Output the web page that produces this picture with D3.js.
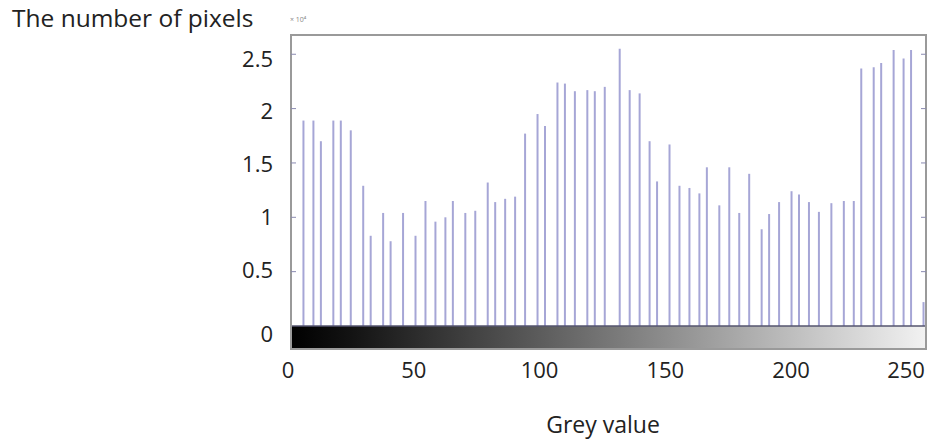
<!DOCTYPE html>
<html>
<head>
<meta charset="utf-8">
<script src="https://cdnjs.cloudflare.com/ajax/libs/d3/7.9.0/d3.min.js"></script>
<style>
  html, body { margin: 0; padding: 0; background: #fff; }
  text { font-family: "Open Sans", sans-serif; fill: #222; }
</style>
</head>
<body>
<svg id="chart" width="928" height="439"></svg>
<script>
// Grey levels (x) and pixel counts in units of 10^4 (y)
const greyValues = [
  0, 5, 9, 12, 17, 20, 24, 29, 32, 37, 40, 45, 50, 54, 58, 62, 65, 70, 74, 79, 82,
  86, 90, 94, 99, 102, 107, 110, 114, 119, 122, 126, 132, 136, 140, 144, 147, 152,
  156, 160, 164, 167, 172, 176, 180, 184, 189, 192, 196, 201, 204, 208, 212, 217,
  222, 226, 229, 234, 237, 242, 246, 249, 254
];
const pixelCounts = [
  2.08, 1.89, 1.89, 1.70, 1.89, 1.89, 1.80, 1.29, 0.83, 1.04, 0.78, 1.04, 0.83, 1.15,
  0.96, 1.00, 1.15, 1.04, 1.06, 1.32, 1.14, 1.17, 1.19, 1.77, 1.95, 1.84, 2.24, 2.23,
  2.16, 2.17, 2.16, 2.20, 2.55, 2.17, 2.14, 1.70, 1.33, 1.67, 1.29, 1.27, 1.22, 1.46,
  1.11, 1.46, 1.04, 1.40, 0.89, 1.03, 1.14, 1.24, 1.21, 1.14, 1.05, 1.13, 1.15, 1.15,
  2.37, 2.38, 2.42, 2.54, 2.46, 2.54, 0.22
];
const xTicks = [0, 50, 100, 150, 200, 250];
const yTicks = [0.5, 1, 1.5, 2, 2.5];

const svg = d3.select('#chart');

// plot box
const boxL = 291, boxR = 926, boxT = 35, base = 326, boxB = 349;

const x = d3.scaleLinear().domain([0, 255]).range([boxL, boxR]);
const y = d3.scaleLinear().domain([0, 2.5]).range([base, base - 2.5 * 108.7]);

// label positions drift a little from the ticks in the original figure
const xLab = d3.scaleLinear().domain([0, 200]).range([288, 791]);
const yLab = d3.scaleLinear().domain([0.5, 2.5]).range([278, 66.5]);

// colour bar under the axis (black -> white)
const grad = svg.append('defs').append('linearGradient').attr('id', 'greyGrad');
grad.append('stop').attr('offset', '0%').attr('stop-color', '#000');
grad.append('stop').attr('offset', '10%').attr('stop-color', '#141414');
grad.append('stop').attr('offset', '100%').attr('stop-color', '#f2f2f2');
svg.append('rect')
  .attr('x', boxL).attr('y', base)
  .attr('width', boxR - boxL).attr('height', boxB - base)
  .attr('fill', 'url(#greyGrad)');

// bars (stems)
svg.append('g')
  .selectAll('line')
  .data(greyValues)
  .join('line')
  .attr('x1', d => x(d)).attr('x2', d => x(d))
  .attr('y1', y(0))
  .attr('y2', (d, i) => y(pixelCounts[i]))
  .attr('stroke', '#a6a6d6')
  .attr('stroke-width', 2);

// baseline
svg.append('line')
  .attr('x1', boxL).attr('x2', boxR).attr('y1', base).attr('y2', base)
  .attr('stroke', '#55556e').attr('stroke-width', 1.5);

// box
svg.append('rect')
  .attr('x', boxL).attr('y', boxT)
  .attr('width', boxR - boxL).attr('height', boxB - boxT)
  .attr('fill', 'none').attr('stroke', '#9a9a9a').attr('stroke-width', 2);

// inner ticks left/right
const tk = svg.append('g').attr('stroke', '#8a8ab0').attr('stroke-width', 1);
yTicks.forEach(t => {
  tk.append('line').attr('x1', boxL).attr('x2', boxL + 5).attr('y1', y(t)).attr('y2', y(t));
  tk.append('line').attr('x1', boxR - 5).attr('x2', boxR).attr('y1', y(t)).attr('y2', y(t));
});

// y labels
svg.append('g')
  .selectAll('text')
  .data(yTicks)
  .join('text')
  .attr('x', 273)
  .attr('y', d => yLab(d))
  .attr('text-anchor', 'end')
  .attr('font-size', 22)
  .text(d => d);
svg.append('text')
  .attr('x', 273).attr('y', 342)
  .attr('text-anchor', 'end').attr('font-size', 22)
  .text('0');

// x labels
svg.append('g')
  .selectAll('text')
  .data(xTicks)
  .join('text')
  .attr('x', d => Math.min(xLab(d), 906))
  .attr('y', 378)
  .attr('text-anchor', 'middle')
  .attr('font-size', 22)
  .text(d => d);

// exponent marker
svg.append('text')
  .attr('x', 290).attr('y', 22)
  .attr('font-size', 7).style('fill', '#888')
  .text('× 10⁴');

// axis titles
svg.append('text')
  .attr('x', 12).attr('y', 27)
  .attr('font-size', 24.5)
  .text('The number of pixels');
svg.append('text')
  .attr('x', 603).attr('y', 433)
  .attr('text-anchor', 'middle')
  .attr('font-size', 23)
  .text('Grey value');
</script>
</body>
</html>
